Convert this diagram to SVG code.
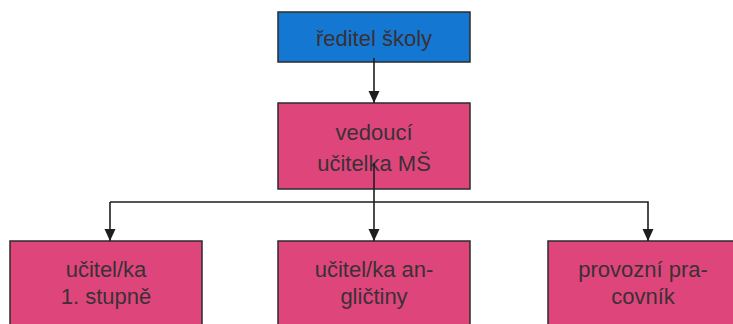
<svg xmlns="http://www.w3.org/2000/svg" width="733" height="324" viewBox="0 0 733 324">
<defs>
<style>
.box{stroke:#2b2b2b;stroke-width:1.5}
.blue{fill:#1478d2}
.pink{fill:#de467b}
.lbl{font-family:"Liberation Sans",Arial,sans-serif;font-size:22px;fill:#3a3036;text-anchor:middle}
.conn{stroke:#1e1e1e;stroke-width:1.6;fill:none}
</style>
<marker id="arrh" viewBox="0 0 12 12" refX="12" refY="6" markerWidth="12" markerHeight="12" markerUnits="userSpaceOnUse" orient="auto">
<path d="M0,0.5 L12,6 L0,11.5 Z" fill="#1e1e1e"/>
</marker>
</defs>
<rect width="733" height="324" fill="#ffffff"/>
<g id="reditel">
<rect class="box blue" x="278" y="12" width="192" height="50"/>
<text class="lbl" x="374" y="46">ředitel školy</text>
</g>
<g id="vedouci">
<rect class="box pink" x="278" y="103" width="192" height="86"/>
<text class="lbl" x="374" y="140">vedoucí</text>
<text class="lbl" x="374" y="171">učitelka MŠ</text>
</g>
<g id="ucitel1">
<rect class="box pink" x="10" y="241" width="192" height="100"/>
<text class="lbl" x="106" y="277">učitel/ka</text>
<text class="lbl" x="106" y="304">1. stupně</text>
</g>
<g id="ucitelAJ">
<rect class="box pink" x="278" y="241" width="192" height="100"/>
<text class="lbl" x="374" y="277">učitel/ka an-</text>
<text class="lbl" x="374" y="304">gličtiny</text>
</g>
<g id="provozni">
<rect class="box pink" x="548" y="241" width="192" height="100"/>
<text class="lbl" x="643" y="277">provozní pra-</text>
<text class="lbl" x="643" y="304">covník</text>
</g>
<g id="connectors">
<line class="conn" x1="374" y1="58" x2="374" y2="103" marker-end="url(#arrh)"/>
<line class="conn" x1="374" y1="163" x2="374" y2="241" marker-end="url(#arrh)"/>
<polyline class="conn" points="110,202 648,202 648,241" marker-end="url(#arrh)"/>
<line class="conn" x1="110" y1="202" x2="110" y2="241" marker-end="url(#arrh)"/>
</g>
</svg>
